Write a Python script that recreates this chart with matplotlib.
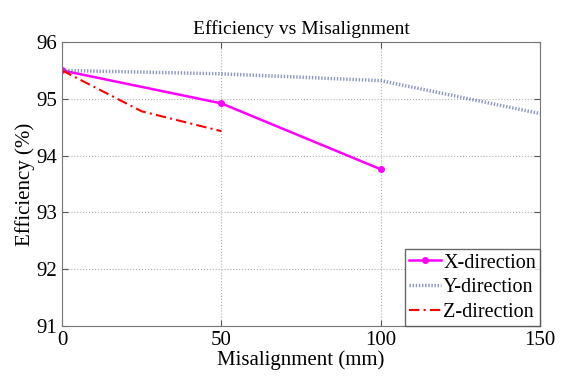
import matplotlib
matplotlib.use("Agg")
import matplotlib.pyplot as plt

# ---------------------------------
# DATA
# ---------------------------------

x_dir_mm = [0, 50, 100]
x_dir_eff = [95.5, 94.92, 93.76]

y_dir_mm = [0, 50, 100, 150]
y_dir_eff = [95.5, 95.44, 95.32, 94.74]

z_dir_mm = [0, 25, 50]
z_dir_eff = [95.5, 94.78, 94.43]

plt.rcParams["font.family"] = ["Liberation Serif", "DejaVu Serif"]

# ---------------------------------
# CREATE GRAPH
# ---------------------------------

fig = plt.figure(figsize=(5.63, 3.81), dpi=100)
ax = fig.add_axes([62 / 563, 55 / 381, 478 / 563, 284 / 381])

ax.plot(x_dir_mm, x_dir_eff, color="magenta", lw=1.8, marker="o", ms=4,
        label="X-direction")
ax.plot(y_dir_mm, y_dir_eff, color="#5060a0", lw=2.5, ls=(0, (0.4, 0.5)),
        alpha=0.65, label="Y-direction")
ax.plot(z_dir_mm, z_dir_eff, color="red", lw=1.5, ls=(0, (5, 2, 1, 2)),
        label="Z-direction")

ax.set_xlim(0, 150)
ax.set_ylim(91, 96)
ax.set_xticks([0, 50, 100, 150])
ax.set_yticks([91, 92, 93, 94, 95, 96])
ax.grid(True, color="#b0b0b0", ls=":", lw=0.8)
ax.tick_params(direction="in", top=True, right=True, labelsize=15,
               color="#555555", length=4)
for s in ax.spines.values():
    s.set_color("#777777")

ax.set_title("Efficiency vs Misalignment", fontsize=14)
ax.set_xlabel("Misalignment (mm)", fontsize=15, labelpad=0)
ax.set_ylabel("Efficiency (%)", fontsize=15, labelpad=1)

leg = ax.legend(loc="lower right", fontsize=14.5, fancybox=False,
                borderaxespad=0, handlelength=1.6, handletextpad=0.1,
                labelspacing=0.28, borderpad=0.2)
leg.get_frame().set_edgecolor("#444444")

fig.savefig("out.png", dpi=100)
